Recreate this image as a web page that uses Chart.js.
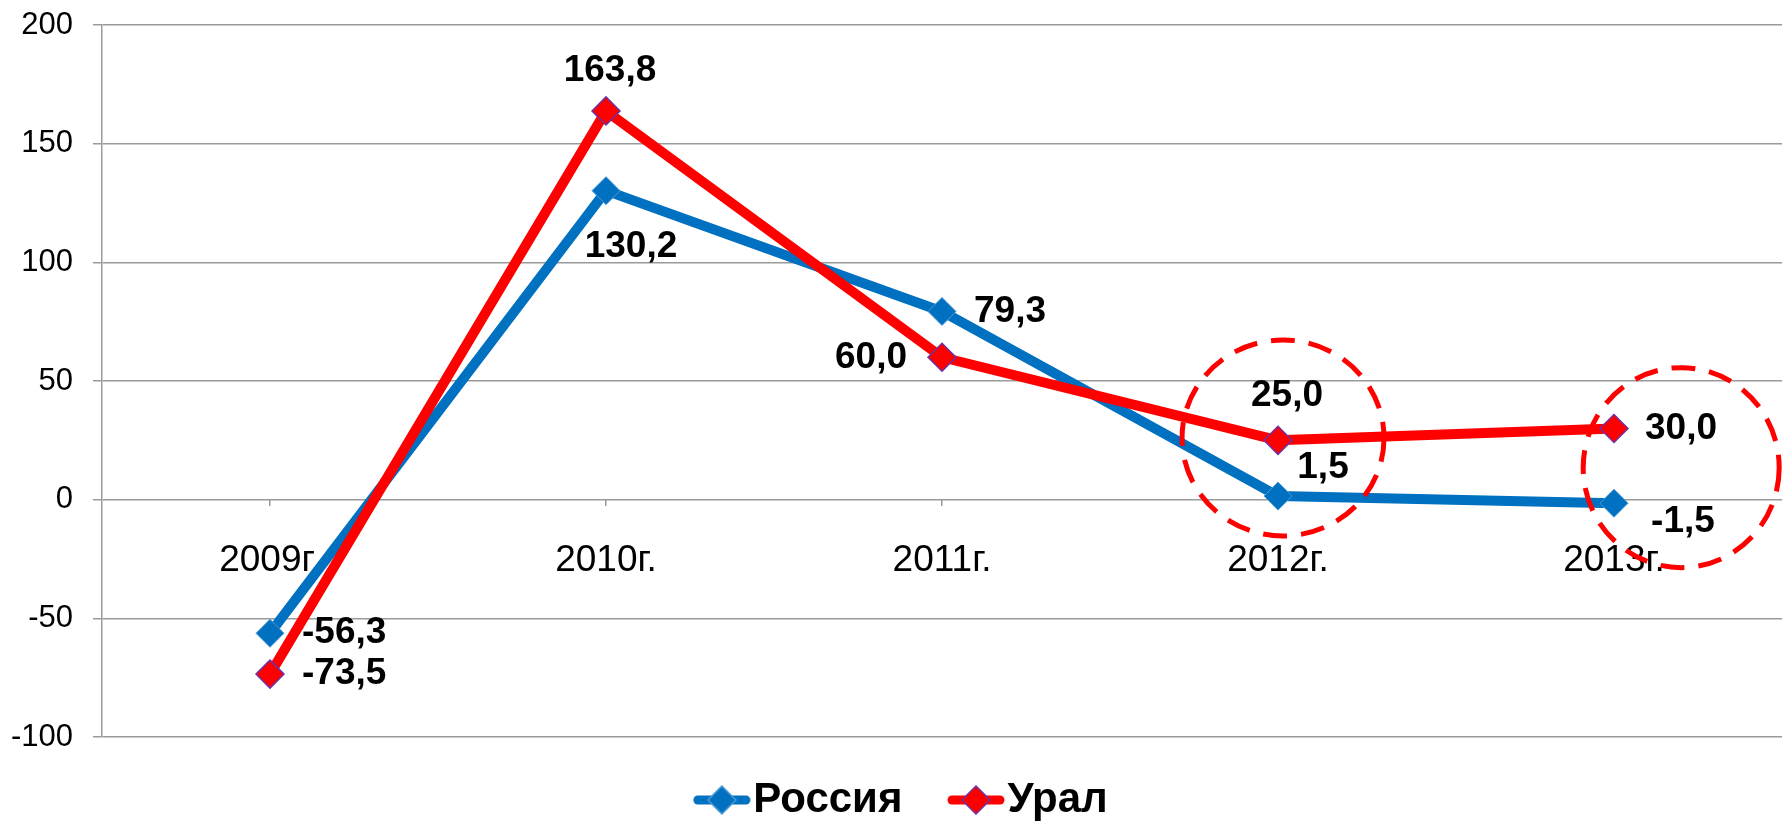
<!DOCTYPE html>
<html>
<head>
<meta charset="utf-8">
<script src="https://cdn.jsdelivr.net/npm/chart.js@4/dist/chart.umd.min.js"></script>
<style>
html, body { margin: 0; padding: 0; background: #fff; }
</style>
</head>
<body>
<canvas id="chart1" width="1782" height="821"></canvas>
<script>
var years = ['2009г.', '2010г.', '2011г.', '2012г.', '2013г.'];
var russia = [-56.3, 130.2, 79.3, 1.5, -1.5];
var ural = [-73.5, 163.8, 60.0, 25.0, 30.0];
var yMin = -100, yMax = 200, yStep = 50;

// where each value label sits relative to its marker
var russiaLabelPos = [
	{align: 'left', dx: 32, dy: 0},
	{align: 'center', dx: 25, dy: 56},
	{align: 'left', dx: 32, dy: 0},
	{align: 'center', dx: 45, dy: -28},
	{align: 'center', dx: 69, dy: 19}
];
var uralLabelPos = [
	{align: 'left', dx: 32, dy: 0},
	{align: 'center', dx: 4, dy: -40},
	{align: 'right', dx: -35, dy: 1},
	{align: 'center', dx: 9, dy: -45},
	{align: 'left', dx: 31, dy: 0}
];

// dashed highlight rings (category index, value)
var rings = [
	{cat: 3.015, value: 26, rx: 101, ry: 98},
	{cat: 4.2, value: 13.5, rx: 98, ry: 100}
];

var FONT = '"Liberation Sans", Arial, sans-serif';

function legendMark(color, border) {
	var pad = 37;
	var c = document.createElement('canvas');
	c.width = 58 + pad;
	c.height = 30;
	var g = c.getContext('2d');
	g.strokeStyle = color;
	g.lineWidth = 9;
	g.lineCap = 'round';
	g.beginPath();
	g.moveTo(pad + 5, 15);
	g.lineTo(pad + 53, 15);
	g.stroke();
	g.fillStyle = color;
	g.beginPath();
	g.moveTo(pad + 29, 1);
	g.lineTo(pad + 43, 15);
	g.lineTo(pad + 29, 29);
	g.lineTo(pad + 15, 15);
	g.closePath();
	g.fill();
	g.strokeStyle = border;
	g.lineWidth = 1.5;
	g.stroke();
	return c;
}

var valueLabels = {
	id: 'valueLabels',
	afterDatasetsDraw: function(chart) {
		var ctx = chart.ctx;
		var places = [russiaLabelPos, uralLabelPos];
		ctx.save();
		ctx.font = 'bold 37px ' + FONT;
		ctx.fillStyle = '#000';
		ctx.textBaseline = 'middle';
		chart.data.datasets.forEach(function(ds, di) {
			var meta = chart.getDatasetMeta(di);
			meta.data.forEach(function(pt, i) {
				var p = places[di][i];
				ctx.textAlign = p.align;
				ctx.fillText(ds.data[i].toFixed(1).replace('.', ','), pt.x + p.dx, pt.y + p.dy);
			});
		});
		ctx.restore();
	}
};

var dashedRings = {
	id: 'dashedRings',
	afterDatasetsDraw: function(chart) {
		var ctx = chart.ctx;
		var xs = chart.scales.x, ys = chart.scales.y;
		ctx.save();
		ctx.strokeStyle = '#ff0000';
		ctx.lineWidth = 5;
		ctx.setLineDash([24, 14]);
		rings.forEach(function(r) {
			ctx.beginPath();
			ctx.ellipse(xs.getPixelForValue(r.cat), ys.getPixelForValue(r.value), r.rx, r.ry, 0, 0, Math.PI * 2);
			ctx.stroke();
		});
		ctx.restore();
	}
};

var ctx = document.getElementById('chart1').getContext('2d');
new Chart(ctx, {
	type: 'line',
	data: {
		labels: years,
		datasets: [{
			label: 'Россия',
			data: russia,
			borderColor: '#0070c0',
			backgroundColor: '#0070c0',
			borderWidth: 10,
			pointStyle: 'rectRot',
			pointRadius: 14,
			pointBackgroundColor: '#0070c0',
			pointBorderColor: '#4f9ad6',
			pointBorderWidth: 1,
			borderJoinStyle: 'round',
			tension: 0,
			order: 1
		}, {
			label: 'Урал',
			data: ural,
			borderColor: '#ff0000',
			backgroundColor: '#ff0000',
			borderWidth: 10,
			pointStyle: 'rectRot',
			pointRadius: 14,
			pointBackgroundColor: '#ff0000',
			pointBorderColor: '#7030a0',
			pointBorderWidth: 1.5,
			borderJoinStyle: 'round',
			tension: 0,
			order: 0
		}]
	},
	options: {
		responsive: false,
		animation: false,
		layout: {
			autoPadding: false,
			padding: {top: 25, left: 0, right: 0, bottom: -10}
		},
		scales: {
			x: {
				position: {y: 0},
				offset: true,
				grid: {
					drawOnChartArea: false,
					tickLength: 6,
					color: '#9a9a9a',
					lineWidth: 1.5
				},
				border: {display: false},
				ticks: {
					font: {family: FONT, size: 37},
					color: '#000',
					padding: 33,
					maxRotation: 0
				},
				afterFit: function(s) {
					s.paddingLeft = 0;
					s.paddingRight = 0;
				}
			},
			y: {
				min: yMin,
				max: yMax,
				ticks: {
					stepSize: yStep,
					font: {family: FONT, size: 31},
					color: '#000',
					padding: 20,
					callback: function(v) { return String(v); }
				},
				grid: {
					color: '#9a9a9a',
					lineWidth: 1.5,
					tickLength: 9
				},
				border: {color: '#9a9a9a', width: 1.5},
				afterFit: function(s) {
					s.width = 102;
					s.paddingTop = 0;
					s.paddingBottom = 0;
				}
			}
		},
		plugins: {
			tooltip: {enabled: false},
			legend: {
				position: 'bottom',
				title: {
					display: true,
					text: '',
					font: {size: 1, lineHeight: 1},
					padding: {top: 0, bottom: 15}
				},
				labels: {
					usePointStyle: true,
					pointStyleWidth: 58,
					padding: 26,
					color: '#000',
					font: {family: FONT, size: 42, weight: 'bold'},
					sort: function(a, b) { return a.datasetIndex - b.datasetIndex; },
					generateLabels: function(chart) {
						var items = Chart.defaults.plugins.legend.labels.generateLabels(chart);
						items.forEach(function(it) {
							it.pointStyle = it.datasetIndex === 0 ? legendMark('#0070c0', '#4f9ad6') : legendMark('#ff0000', '#7030a0');
						});
						return items;
					}
				}
			}
		}
	},
	plugins: [dashedRings, valueLabels]
});
</script>
</body>
</html>
